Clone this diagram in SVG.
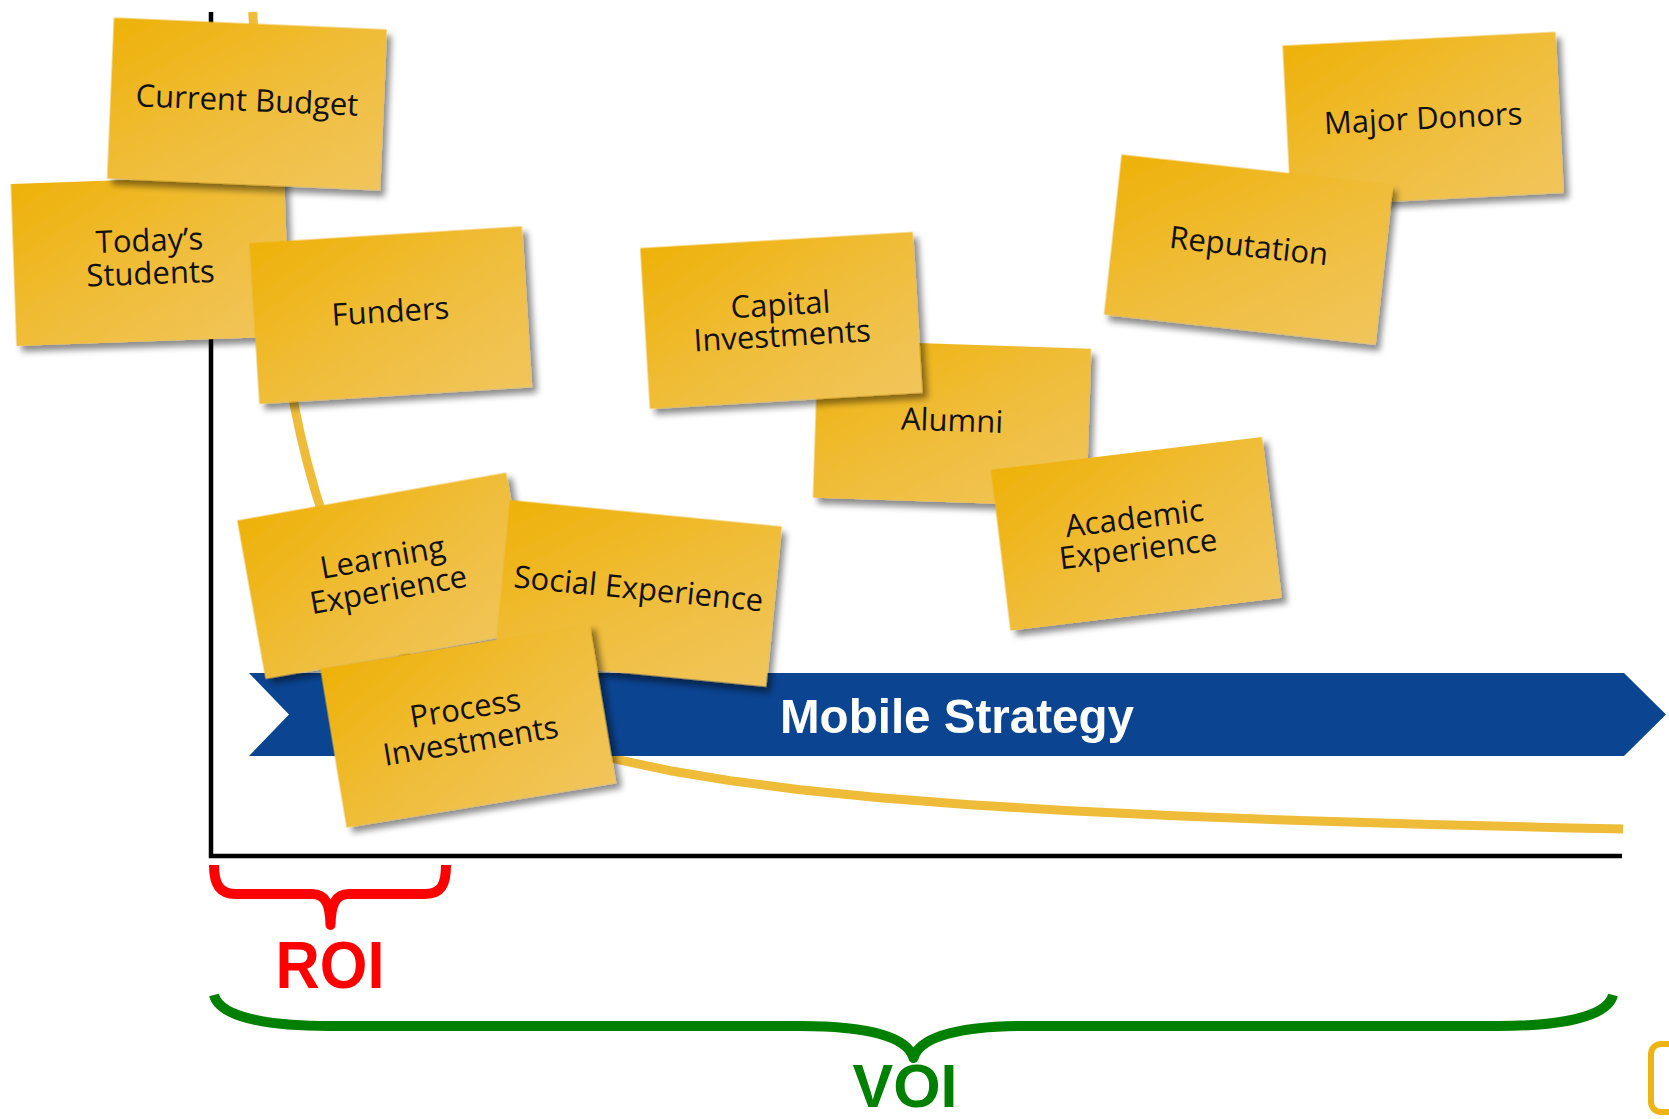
<svg xmlns="http://www.w3.org/2000/svg" width="1669" height="1119" viewBox="0 0 1669 1119">
  <defs>
    <linearGradient id="ng" x1="0" y1="0" x2="1" y2="1">
      <stop offset="0" stop-color="#EEB109"/>
      <stop offset="0.55" stop-color="#F0BE3D"/>
      <stop offset="1" stop-color="#F1C55C"/>
    </linearGradient>
    <filter id="sh" x="-10%" y="-10%" width="125%" height="130%">
      <feDropShadow dx="5" dy="6" stdDeviation="3" flood-color="#000" flood-opacity="0.45"/>
    </filter>
    <style>
      .note rect { fill: url(#ng); filter: url(#sh); }
      .note text { font-family: "Open Sans", "DejaVu Sans", sans-serif; font-size: 31px; fill: #111; text-anchor: middle; }
      .axis { stroke: #000; stroke-width: 4.5; fill: none; }
      .curve { stroke: #EFBC3A; stroke-width: 9; fill: none; stroke-linejoin: round; }
      .brace { fill: none; stroke-width: 10; stroke-linejoin: round; }
      .big { font-family: "Liberation Sans", Arial, sans-serif; font-weight: bold; text-anchor: middle; }
    </style>
  </defs>
  <rect width="1669" height="1119" fill="#fff"/>

  <g id="connectors">
    <path class="axis" d="M211,12 V856 H1622"/>
    <polyline class="curve" points="252.7,12 254,34 256,66 258,96 260,123.5 263,161.5 266,196 270,236.4 275,280.8 280,319.2 285,352.9 290,382.6 295,409 300,432.6 307,461.7 315,490.5 322,512.6 330,534.5 340,556.5 350,579.1 365,605.2 380,626.8 400,650.5 420,669.7 445,689.3 470,705.2 500,720.7 535,735.2 575,748.4 620,760.2 670,770.7 730,780.6 800,789.7 880,797.7 970,804.7 1070,810.8 1180,816.1 1300,820.6 1430,824.5 1560,827.7 1623,829"/>
  </g>

  <g id="roi">
    <path class="brace" stroke="#FF0000" d="M214,865 C214,885 220,894 236,894 L312,894 C326,894 330,905 330.5,925 C331,905 335,894 349,894 L425,894 C441,894 446,885 446,865"/>
    <text class="big" x="330" y="988" font-size="66" fill="#FF0000" textLength="109" lengthAdjust="spacingAndGlyphs">ROI</text>
  </g>

  <g id="voi">
    <path class="brace" stroke="#008000" d="M214,995 C220,1018 270,1026 330,1026 L800,1026 C866,1026 907,1036 913.5,1058 C920,1036 961,1026 1027,1026 L1497,1026 C1557,1026 1607,1018 1613,995"/>
    <text class="big" x="905" y="1107" font-size="62" fill="#008000" textLength="105" lengthAdjust="spacingAndGlyphs">VOI</text>
  </g>

  <g id="mobile-strategy">
    <polygon points="249,673 1624,673 1666,714.5 1624,756 249,756 289,714.5" fill="#0B4491"/>
    <text class="big" x="957" y="733" font-size="49" fill="#fff" textLength="354" lengthAdjust="spacingAndGlyphs">Mobile Strategy</text>
  </g>

  <rect x="1651" y="1044" width="60" height="68" rx="10" fill="#fff" stroke="#EEB414" stroke-width="6"/>

  <g id="todays-students" class="note" transform="translate(150.1,260.2) rotate(-2)">
    <rect x="-136.5" y="-81" width="273" height="162"/>
    <text y="-9">Today’s</text>
    <text y="24">Students</text>
  </g>
  <g id="current-budget" class="note" transform="translate(246.9,104) rotate(2.46)">
    <rect x="-136.5" y="-80.5" width="273" height="161"/>
    <text y="7">Current Budget</text>
  </g>
  <g id="funders" class="note" transform="translate(390.6,315.1) rotate(-3.55)">
    <rect x="-136.5" y="-80.5" width="273" height="161"/>
    <text y="7">Funders</text>
  </g>
  <g id="alumni" class="note" transform="translate(952,423.2) rotate(1.9)">
    <rect x="-136.5" y="-79" width="273" height="158"/>
    <text y="8">Alumni</text>
  </g>
  <g id="capital-investments" class="note" transform="translate(781.3,320.4) rotate(-3.4)">
    <rect x="-136.5" y="-80.5" width="273" height="161"/>
    <text y="-5">Capital</text>
    <text y="26">Investments</text>
  </g>
  <g id="academic-experience" class="note" transform="translate(1136.2,533.8) rotate(-6.9)">
    <rect x="-136.5" y="-81" width="273" height="162"/>
    <text y="-5">Academic</text>
    <text y="26">Experience</text>
  </g>
  <g id="major-donors" class="note" transform="translate(1423.1,119.2) rotate(-2.9)">
    <rect x="-136.5" y="-80.5" width="273" height="161"/>
    <text y="10">Major Donors</text>
  </g>
  <g id="reputation" class="note" transform="translate(1248.5,249.6) rotate(6.3)">
    <rect x="-136.5" y="-80.5" width="273" height="161"/>
    <text y="7">Reputation</text>
  </g>
  <g id="learning-experience" class="note" transform="translate(385.8,575.8) rotate(-10.1)">
    <rect x="-136.5" y="-80.5" width="273" height="161"/>
    <text y="-8">Learning</text>
    <text y="25">Experience</text>
  </g>
  <g id="social-experience" class="note" transform="translate(638.1,593.4) rotate(5.55)">
    <rect x="-136.5" y="-80.5" width="273" height="161"/>
    <text y="6">Social Experience</text>
  </g>
  <g id="process-investments" class="note" transform="translate(468.1,725.9) rotate(-9.4)">
    <rect x="-136.5" y="-80.5" width="273" height="161"/>
    <text y="-7">Process</text>
    <text y="26">Investments</text>
  </g>
</svg>
